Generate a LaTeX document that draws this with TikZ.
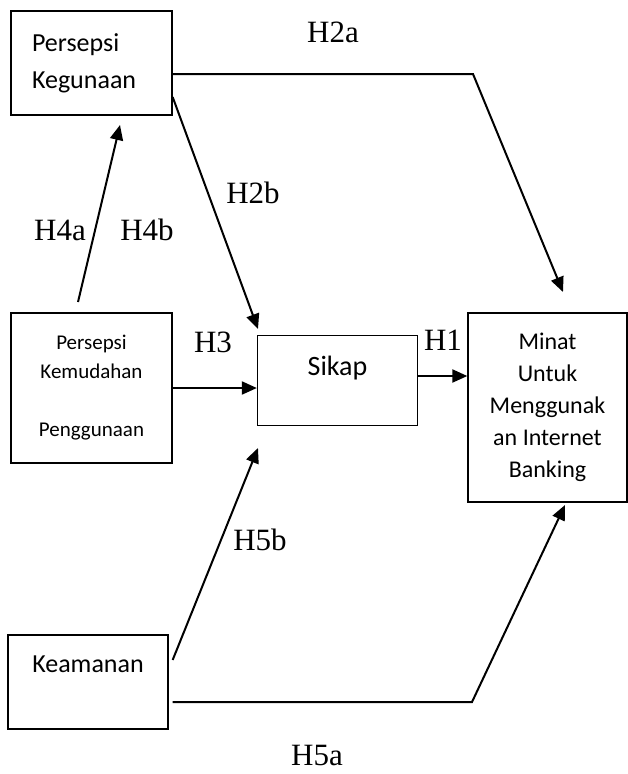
\documentclass[tikz,border=0pt]{standalone}
\usepackage{fontspec}
\setmainfont{Carlito}
\newfontfamily\hypfont{Liberation Serif}
\usetikzlibrary{arrows.meta}
\usetikzlibrary{calc}

\begin{document}
\begin{tikzpicture}[x=1pt, y=-1pt,
    box/.style={draw, line width=1.3pt, inner sep=0pt, align=center},
    path line/.style={line width=2pt, line join=miter},
    arrow line/.style={path line, -{Triangle[length=15pt,width=13pt]}},
    hyp/.style={font=\hypfont\fontsize{31}{31}\selectfont, inner sep=0pt},
    ]
\useasboundingbox (0,0) rectangle (628,774);

%% draw boxes
\node[box, minimum width=161pt, minimum height=104pt, text width=119pt, align=left,
      font=\fontsize{26}{37}\selectfont] (pk) at (91.5,63) {Persepsi\\Kegunaan};
\node[box, minimum width=161pt, minimum height=150pt,
      font=\fontsize{21}{29}\selectfont] (pkp) at (91.5,388) {Persepsi\\Kemudahan\\[29pt]Penggunaan};
\node[box, minimum width=160pt, minimum height=90pt,
      font=\fontsize{28}{32}\selectfont] (sikap) at (337.5,380.5) {\raisebox{5pt}[0pt][0pt]{Sikap}};
\node[box, minimum width=159pt, minimum height=189pt,
      font=\fontsize{24}{32}\selectfont] (minat) at (547.5,407.5) {Minat\\Untuk\\Menggunak\\an Internet\\Banking};
\node[box, minimum width=160pt, minimum height=94pt,
      font=\fontsize{26}{32}\selectfont] (kea) at (88,682) {\raisebox{10pt}[0pt][0pt]{Keamanan}};

%% bends and free ends
\coordinate (h2a bend) at (473,74);  \coordinate (h2a end) at (563,292);
\coordinate (h2b end) at (258,329);
\coordinate (h4 start) at (78,302);  \coordinate (h4 end) at (120,125);
\coordinate (h5b end) at (258,448);
\coordinate (h5a bend) at (472,702); \coordinate (h5a end) at (565,505);

%% draw arrows
\draw[arrow line] (pk.east |- h2a bend) -- (h2a bend) -- (h2a end);
\draw[arrow line] (pk.east |- 0,97) -- (h2b end);
\draw[arrow line] (h4 start) -- (h4 end);
\draw[arrow line] (pkp.east) -- (sikap.west |- pkp.east);
\draw[arrow line] (sikap.east |- 0,376) -- (minat.west |- 0,376);
\draw[arrow line] ([xshift=4pt]kea.east |- 0,660) -- (h5b end);
\draw[arrow line] ([xshift=4pt]kea.east |- h5a bend) -- (h5a bend) -- (h5a end);

%% label hypotheses
\node[hyp] (lbl h2a) at (333,32) {H2a};
\node[hyp] (lbl h2b) at (253,193) {H2b};
\node[hyp] (lbl h4a) at (60,230) {H4a};
\node[hyp] (lbl h4b) at (147,230) {H4b};
\node[hyp] (lbl h3) at (213,342) {H3};
\node[hyp] (lbl h1) at (443,340) {H1};
\node[hyp] (lbl h5b) at (260,540) {H5b};
\node[hyp] (lbl h5a) at (317,755) {H5a};

\end{tikzpicture}
\end{document}
